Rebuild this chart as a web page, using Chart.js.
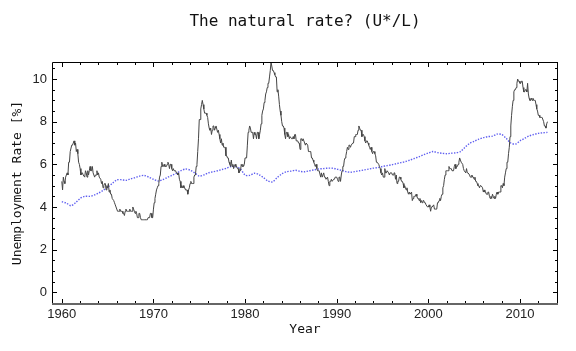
<!DOCTYPE html>
<html>
<head>
<meta charset="utf-8">
<script src="https://cdn.jsdelivr.net/npm/chart.js@4/dist/chart.umd.min.js"></script>
<style>
  html, body { margin: 0; padding: 0; background: #fff; }
  #wrap { width: 576px; height: 351px; }
</style>
</head>
<body>
<div id="wrap"><canvas id="rateChart" width="576" height="351"></canvas></div>
<script>
// monthly unemployment rate, Jan 1960 .. Jan 2013
var startYear = 1960;
var unemployment = [
  5.2, 4.8, 5.4, 5.2, 5.1, 5.4, 5.5, 5.6, 5.5, 6.1, 6.1, 6.6, // 1960
  6.6, 6.9, 6.9, 7.0, 7.1, 6.9, 7.0, 6.6, 6.7, 6.5, 6.1, 6.0, // 1961
  5.8, 5.5, 5.6, 5.6, 5.5, 5.5, 5.4, 5.7, 5.6, 5.4, 5.7, 5.5, // 1962
  5.7, 5.9, 5.7, 5.7, 5.9, 5.6, 5.6, 5.4, 5.5, 5.5, 5.7, 5.5, // 1963
  5.6, 5.4, 5.4, 5.3, 5.1, 5.2, 4.9, 5.0, 5.1, 5.1, 4.8, 5.0, // 1964
  4.9, 5.1, 4.7, 4.8, 4.6, 4.6, 4.4, 4.4, 4.3, 4.2, 4.1, 4.0, // 1965
  4.0, 3.8, 3.8, 3.8, 3.9, 3.8, 3.8, 3.8, 3.7, 3.7, 3.6, 3.8, // 1966
  3.9, 3.8, 3.8, 3.8, 3.8, 3.9, 3.8, 3.8, 3.8, 4.0, 3.9, 3.8, // 1967
  3.7, 3.8, 3.7, 3.5, 3.5, 3.7, 3.7, 3.5, 3.4, 3.4, 3.4, 3.4, // 1968
  3.4, 3.4, 3.4, 3.4, 3.4, 3.5, 3.5, 3.5, 3.7, 3.7, 3.5, 3.5, // 1969
  3.9, 4.2, 4.4, 4.6, 4.8, 4.9, 5.0, 5.1, 5.4, 5.5, 5.9, 6.1, // 1970
  5.9, 5.9, 6.0, 5.9, 5.9, 5.9, 6.0, 6.1, 6.0, 5.8, 6.0, 6.0, // 1971
  5.8, 5.7, 5.8, 5.7, 5.7, 5.7, 5.6, 5.6, 5.5, 5.6, 5.3, 5.2, // 1972
  4.9, 5.0, 4.9, 5.0, 4.9, 4.9, 4.8, 4.8, 4.8, 4.6, 4.8, 4.9, // 1973
  5.1, 5.2, 5.1, 5.1, 5.1, 5.4, 5.5, 5.5, 5.9, 6.0, 6.6, 7.2, // 1974
  8.1, 8.1, 8.6, 8.8, 9.0, 8.8, 8.6, 8.4, 8.4, 8.4, 8.3, 8.2, // 1975
  7.9, 7.7, 7.6, 7.7, 7.4, 7.6, 7.8, 7.8, 7.6, 7.7, 7.8, 7.8, // 1976
  7.5, 7.6, 7.4, 7.2, 7.0, 7.2, 6.9, 7.0, 6.8, 6.8, 6.8, 6.4, // 1977
  6.4, 6.3, 6.3, 6.1, 6.0, 5.9, 6.2, 5.9, 6.0, 5.8, 5.9, 6.0, // 1978
  5.9, 5.9, 5.8, 5.8, 5.6, 5.7, 5.7, 6.0, 5.9, 6.0, 5.9, 6.0, // 1979
  6.3, 6.3, 6.3, 6.9, 7.5, 7.6, 7.8, 7.7, 7.5, 7.5, 7.5, 7.2, // 1980
  7.5, 7.4, 7.4, 7.2, 7.5, 7.5, 7.2, 7.4, 7.6, 7.9, 8.3, 8.5, // 1981
  8.6, 8.9, 9.0, 9.3, 9.4, 9.6, 9.8, 9.8, 10.1, 10.4, 10.8, 10.8, // 1982
  10.4, 10.4, 10.3, 10.2, 10.1, 10.1, 9.4, 9.5, 9.2, 8.8, 8.5, 8.3, // 1983
  8.0, 7.8, 7.8, 7.7, 7.4, 7.2, 7.5, 7.5, 7.3, 7.4, 7.2, 7.3, // 1984
  7.3, 7.2, 7.2, 7.3, 7.2, 7.4, 7.4, 7.1, 7.1, 7.1, 7.0, 7.0, // 1985
  6.7, 7.2, 7.2, 7.1, 7.2, 7.2, 7.0, 6.9, 7.0, 7.0, 6.9, 6.6, // 1986
  6.6, 6.6, 6.6, 6.3, 6.3, 6.2, 6.1, 6.0, 5.9, 6.0, 5.8, 5.7, // 1987
  5.7, 5.7, 5.7, 5.4, 5.6, 5.4, 5.4, 5.6, 5.4, 5.4, 5.3, 5.3, // 1988
  5.4, 5.2, 5.0, 5.2, 5.2, 5.3, 5.2, 5.2, 5.3, 5.3, 5.4, 5.4, // 1989
  5.4, 5.3, 5.2, 5.4, 5.4, 5.2, 5.5, 5.7, 5.9, 5.9, 6.2, 6.3, // 1990
  6.4, 6.6, 6.8, 6.7, 6.9, 6.9, 6.8, 6.9, 6.9, 7.0, 7.0, 7.3, // 1991
  7.3, 7.4, 7.4, 7.4, 7.6, 7.8, 7.7, 7.6, 7.6, 7.3, 7.4, 7.4, // 1992
  7.3, 7.1, 7.0, 7.1, 7.1, 7.0, 6.9, 6.8, 6.7, 6.8, 6.6, 6.5, // 1993
  6.6, 6.6, 6.5, 6.4, 6.1, 6.1, 6.1, 6.0, 5.9, 5.8, 5.6, 5.5, // 1994
  5.6, 5.4, 5.4, 5.8, 5.6, 5.6, 5.7, 5.7, 5.6, 5.5, 5.6, 5.6, // 1995
  5.6, 5.5, 5.5, 5.6, 5.6, 5.3, 5.5, 5.1, 5.2, 5.2, 5.4, 5.4, // 1996
  5.3, 5.2, 5.2, 5.1, 4.9, 5.0, 4.9, 4.8, 4.9, 4.7, 4.6, 4.7, // 1997
  4.6, 4.6, 4.7, 4.3, 4.4, 4.5, 4.5, 4.5, 4.6, 4.5, 4.4, 4.4, // 1998
  4.3, 4.4, 4.2, 4.3, 4.2, 4.3, 4.3, 4.2, 4.2, 4.1, 4.1, 4.0, // 1999
  4.0, 4.1, 4.0, 3.8, 4.0, 4.0, 4.0, 4.1, 3.9, 3.9, 3.9, 3.9, // 2000
  4.2, 4.2, 4.3, 4.4, 4.3, 4.5, 4.6, 4.9, 5.0, 5.3, 5.5, 5.7, // 2001
  5.7, 5.7, 5.7, 5.9, 5.8, 5.8, 5.8, 5.7, 5.7, 5.7, 5.9, 6.0, // 2002
  5.8, 5.9, 5.9, 6.0, 6.1, 6.3, 6.2, 6.1, 6.1, 6.0, 5.8, 5.7, // 2003
  5.7, 5.6, 5.8, 5.6, 5.6, 5.6, 5.5, 5.4, 5.4, 5.5, 5.4, 5.4, // 2004
  5.3, 5.4, 5.2, 5.2, 5.1, 5.0, 5.0, 4.9, 5.0, 5.0, 5.0, 4.9, // 2005
  4.7, 4.8, 4.7, 4.7, 4.6, 4.6, 4.7, 4.7, 4.5, 4.4, 4.5, 4.4, // 2006
  4.6, 4.5, 4.4, 4.5, 4.4, 4.6, 4.7, 4.6, 4.7, 4.7, 4.7, 5.0, // 2007
  5.0, 4.9, 5.1, 5.0, 5.4, 5.6, 5.8, 6.1, 6.1, 6.5, 6.8, 7.3, // 2008
  7.8, 8.3, 8.7, 9.0, 9.4, 9.5, 9.5, 9.6, 9.8, 10.0, 9.9, 9.9, // 2009
  9.8, 9.8, 9.9, 9.9, 9.6, 9.4, 9.4, 9.5, 9.5, 9.4, 9.8, 9.3, // 2010
  9.1, 9.0, 9.0, 9.1, 9.0, 9.1, 9.0, 9.0, 9.0, 8.8, 8.6, 8.5, // 2011
  8.3, 8.3, 8.2, 8.2, 8.2, 8.2, 8.2, 8.0, 7.8, 7.8, 7.7, 7.9, // 2012
  8.0                                                           // 2013
];

// estimated natural rate, half-yearly, 1960.0 .. 2013.0
var naturalRate = [
  4.25, 4.18, 4.06, 4.20, 4.40, 4.50, 4.50, 4.55, 4.65, 4.78, // 1960-1964.5
  4.93, 5.10, 5.27, 5.28, 5.25, 5.32, 5.38, 5.45, 5.48, 5.40, // 1965-1969.5
  5.30, 5.22, 5.28, 5.38, 5.48, 5.58, 5.70, 5.78, 5.73, 5.60, // 1970-1974.5
  5.45, 5.50, 5.60, 5.65, 5.70, 5.76, 5.82, 5.90, 5.88, 5.78, // 1975-1979.5
  5.50, 5.48, 5.58, 5.52, 5.38, 5.22, 5.18, 5.38, 5.55, 5.65, // 1980-1984.5
  5.68, 5.72, 5.67, 5.65, 5.70, 5.74, 5.78, 5.80, 5.82, 5.82, // 1985-1989.5
  5.78, 5.72, 5.66, 5.63, 5.66, 5.70, 5.74, 5.78, 5.82, 5.85, // 1990-1994.5
  5.90, 5.94, 5.98, 6.03, 6.08, 6.13, 6.20, 6.28, 6.36, 6.45, // 1995-1999.5
  6.53, 6.60, 6.55, 6.52, 6.50, 6.52, 6.54, 6.60, 6.80, 6.98, // 2000-2004.5
  7.08, 7.18, 7.25, 7.30, 7.32, 7.42, 7.40, 7.22, 7.00, 6.95, // 2005-2009.5
  7.10, 7.22, 7.33, 7.40, 7.45, 7.48, 7.50                    // 2010-2013
];

var chartTitle = 'The natural rate? (U*/L)';
var xTickValues = [1960, 1970, 1980, 1990, 2000, 2010];
var yTickValues = [0, 2, 4, 6, 8, 10];

var uPoints = unemployment.map(function(v, i) { return { x: startYear + i / 12, y: v }; });
var nPoints = naturalRate.map(function(v, i) { return { x: startYear + i / 2, y: v }; });

// Mathematica-style frame with inward ticks, title centred over the plot box
var frameTicks = {
    id: 'frameTicks',
    afterDraw: function(chart) {
        var ctx = chart.ctx, a = chart.chartArea;
        var xs = chart.scales.x, ys = chart.scales.y;
        ctx.save();
        ctx.strokeStyle = '#000';
        ctx.lineWidth = 1;
        ctx.beginPath();
        ctx.moveTo(a.left + 0.5, a.bottom);
        ctx.lineTo(a.left + 0.5, a.top + 0.5);
        ctx.lineTo(a.right - 0.5, a.top + 0.5);
        ctx.lineTo(a.right - 0.5, a.bottom);
        var v, p, len;
        for (v = 1960; v <= 2014; v += 2) {
            p = Math.round(xs.getPixelForValue(v)) + 0.5;
            len = (v % 10 === 0) ? 5 : 3;
            ctx.moveTo(p, a.bottom);
            ctx.lineTo(p, a.bottom - len);
            ctx.moveTo(p, a.top);
            ctx.lineTo(p, a.top + len);
        }
        for (v = -0.5; v <= 10.6; v += 0.5) {
            p = Math.round(ys.getPixelForValue(v)) + 0.5;
            if (p < a.top || p > a.bottom) continue;
            len = (Math.abs(v % 2) < 0.01) ? 5 : 3;
            ctx.moveTo(a.left, p);
            ctx.lineTo(a.left + len, p);
            ctx.moveTo(a.right, p);
            ctx.lineTo(a.right - len, p);
        }
        ctx.stroke();
        ctx.strokeStyle = '#666';
        ctx.lineWidth = 2;
        ctx.beginPath();
        ctx.moveTo(a.left, a.bottom);
        ctx.lineTo(a.right, a.bottom);
        ctx.stroke();

        ctx.fillStyle = '#111';
        ctx.font = '16px "DejaVu Sans Mono"';
        ctx.textAlign = 'center';
        ctx.textBaseline = 'middle';
        ctx.fillText(chartTitle, (a.left + a.right) / 2, 22);
        ctx.restore();
    }
};

var ctx = document.getElementById('rateChart').getContext('2d');
new Chart(ctx, {
    type: 'line',
    data: {
        datasets: [{
            label: 'Unemployment rate',
            data: uPoints,
            borderColor: '#444',
            borderWidth: 1,
            pointRadius: 0,
            tension: 0
        }, {
            label: 'U*/L',
            data: nPoints,
            borderColor: '#5f5ff0',
            borderWidth: 1.4,
            borderDash: [1.4, 1.4],
            pointRadius: 0,
            tension: 0.3
        }]
    },
    options: {
        responsive: false,
        animation: false,
        events: [],
        layout: { padding: { left: 4, right: 18, top: 62, bottom: 4 } },
        plugins: {
            legend: { display: false },
            tooltip: { enabled: false },
            title: { display: false }
        },
        scales: {
            x: {
                type: 'linear',
                min: 1958.93,
                max: 2014.15,
                grid: { display: false, drawTicks: false },
                border: { display: false },
                afterBuildTicks: function(scale) {
                    scale.ticks = xTickValues.map(function(v) { return { value: v }; });
                },
                afterFit: function(scale) { scale.height = 43; },
                ticks: {
                    color: '#222',
                    padding: 3,
                    maxRotation: 0,
                    font: { family: 'Liberation Sans', size: 13 },
                    callback: function(v) { return String(v); }
                },
                title: {
                    display: true,
                    text: 'Year',
                    color: '#111',
                    font: { family: 'DejaVu Sans Mono', size: 13 },
                    padding: { top: 0, bottom: 10 }
                }
            },
            y: {
                min: -0.55,
                max: 10.8,
                grid: { display: false, drawTicks: false },
                border: { display: false },
                afterBuildTicks: function(scale) {
                    scale.ticks = yTickValues.map(function(v) { return { value: v }; });
                },
                afterFit: function(scale) { scale.width = 48; },
                ticks: {
                    color: '#222',
                    padding: 5,
                    font: { family: 'Liberation Sans', size: 13 }
                },
                title: {
                    display: true,
                    text: 'Unemployment Rate [%]',
                    color: '#111',
                    font: { family: 'DejaVu Sans Mono', size: 13 },
                    padding: { top: 6, bottom: 0 }
                }
            }
        }
    },
    plugins: [frameTicks]
});
</script>
</body>
</html>
